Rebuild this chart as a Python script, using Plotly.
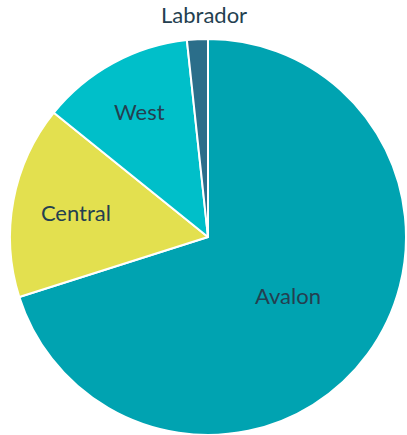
import plotly.graph_objects as go

labels = ["Avalon", "Central", "West", "Labrador"]
values = [70.1, 15.7, 12.5, 1.7]
colors = ["#00A3B1", "#E3E04F", "#00BFC9", "#2B6E8A"]
inside_text = ["%{label}", "%{label}", "%{label}", ""]

font = dict(family="Lato", size=22, color="#243F50")

fig = go.Figure(go.Pie(
    labels=labels,
    values=values,
    sort=False,
    direction="clockwise",
    rotation=0,
    marker=dict(colors=colors, line=dict(color="white", width=2)),
    texttemplate=inside_text,
    textposition="inside",
    insidetextorientation="horizontal",
    textfont=font,
    showlegend=False,
    hole=0,
))
fig.add_annotation(
    text=labels[3], xref="paper", yref="paper",
    x=0.49, y=1.062, xanchor="center", yanchor="middle",
    showarrow=False, font=font,
)
fig.update_layout(
    width=407, height=435,
    margin=dict(l=10, r=1, t=39, b=0),
    paper_bgcolor="white",
    plot_bgcolor="white",
)
fig.write_html("out.html", config={"displayModeBar": False},
               post_script="document.body.style.margin='0';")
